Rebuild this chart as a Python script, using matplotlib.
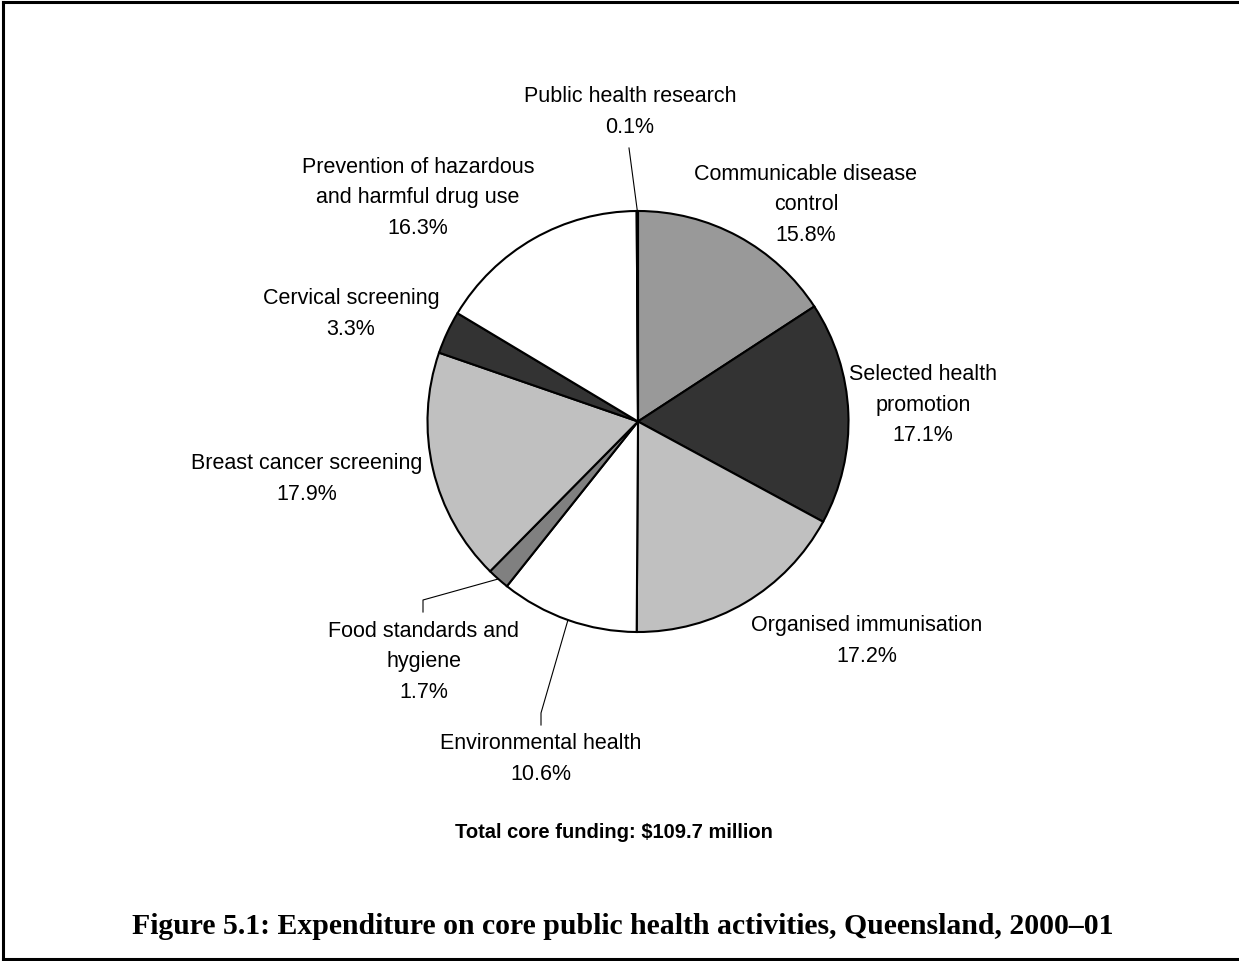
import numpy as np
import matplotlib.pyplot as plt
from matplotlib.lines import Line2D

# Spending shares, clockwise from 12 o'clock
activities = [
    "Communicable disease\ncontrol",
    "Selected health\npromotion",
    "Organised immunisation",
    "Environmental health",
    "Food standards and\nhygiene",
    "Breast cancer screening",
    "Cervical screening",
    "Prevention of hazardous\nand harmful drug use",
    "Public health research",
]
shares = [15.8, 17.1, 17.2, 10.6, 1.7, 17.9, 3.3, 16.3, 0.1]
total_funding = 109.7

fills = ["#999999", "#333333", "#c0c0c0", "#ffffff", "#808080",
         "#c0c0c0", "#333333", "#ffffff", "#999999"]

W, H = 1239, 961
fig = plt.figure(figsize=(W / 100, H / 100), dpi=100)
ax = fig.add_axes([0, 0, 1, 1])

def fy(y):
    # pixel row (top-down) -> data y
    return H - y

cx, cy, r = 638, 421.5, 210.5
ax.pie(shares, colors=fills, startangle=90, counterclock=False,
       center=(cx, fy(cy)), radius=r,
       wedgeprops=dict(edgecolor="black", linewidth=1.5))

# pie() resets the limits, so pin them afterwards
ax.set_xlim(0, W)
ax.set_ylim(0, H)
ax.set_aspect("equal")
ax.axis("off")

# label centres (pixel coords) and leader lines for the small slices
label_xy = [(806, 205), (923, 405), (867, 641), (541, 759), (424, 662),
            (307, 479), (351, 314), (418, 198), (630, 112)]
leaders = {3: [(541, 725), (541, 713)], 4: [(423, 612), (423, 600)], 8: [(629, 148)]}

cum = np.cumsum([0] + shares)
for i, (name, val) in enumerate(zip(activities, shares)):
    lx, ly = label_xy[i]
    ax.text(lx, fy(ly), f"{name}\n{val}%", ha="center", va="center",
            fontsize=15.5, family="Liberation Sans", linespacing=1.58)
    if i in leaders:
        mid = np.deg2rad((cum[i] + val / 2) / 100 * 360)
        ex, ey = cx + r * np.sin(mid), cy - r * np.cos(mid)
        pts = leaders[i] + [(ex, ey)]
        ax.plot([p[0] for p in pts], [fy(p[1]) for p in pts],
                color="black", linewidth=0.8)

ax.text(614, fy(832), f"Total core funding: ${total_funding} million",
        ha="center", va="center", fontsize=14.5, fontweight="bold",
        family="Liberation Sans")

ax.text(623, fy(927), "Figure 5.1: Expenditure on core public health activities, Queensland, 2000\u201301",
        ha="center", va="center", fontsize=21.4, fontweight="bold",
        family="Liberation Serif")

# frame on left, top and bottom
for xs, ys in [((2.5, 2.5), (1.5, 959)), ((2.5, W), (1.5, 1.5)), ((2.5, W), (959, 959))]:
    ax.add_line(Line2D(xs, [fy(v) for v in ys], color="black", linewidth=2.2))

fig.savefig("out.png", dpi=100)
